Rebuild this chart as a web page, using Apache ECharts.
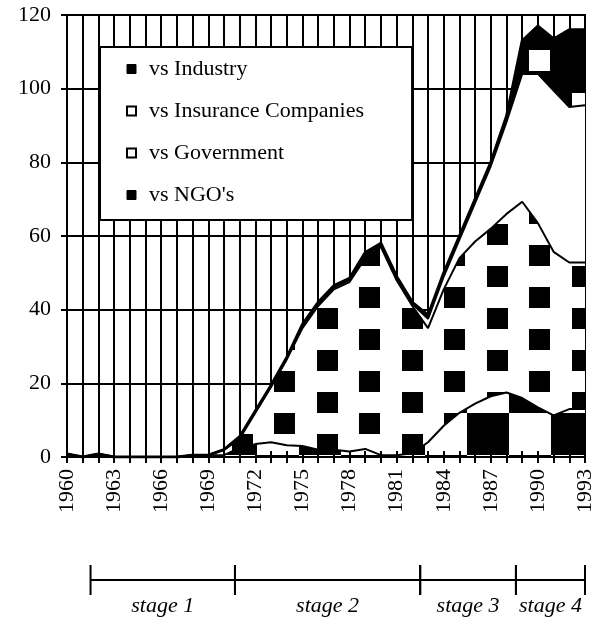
<!DOCTYPE html>
<html>
<head>
<meta charset="utf-8">
<script src="https://cdn.jsdelivr.net/npm/echarts@6/dist/echarts.min.js"></script>
<style>
  html, body { margin: 0; padding: 0; background: #fff; }
  #chart { width: 600px; height: 622px; }
</style>
</head>
<body>
<div id="chart"></div>
<script>
// years on the x axis
const years = []
for (let y = 1960; y <= 1993; y++) years.push(String(y))

// layer values (not cumulative)
const ngo = [0.8, 0, 0.8, 0, 0, 0, 0, 0, 0.5, 0.5, 0.5, 2.5, 3.5, 4, 3.2, 3, 2, 2, 1.5, 2.2, 0.5, 0.5, 1, 4, 8.5, 12, 14.5, 16.5, 17.5, 16, 13.5, 11.3, 13, 13]
const government = [0, 0, 0, 0, 0, 0, 0, 0, 0, 0, 1.5, 2.5, 8.5, 15, 23.3, 32, 39, 43.5, 46, 51.8, 56.5, 47.5, 40, 31, 37, 42, 44, 45.5, 48.5, 53.3, 50, 44.4, 39.8, 39.8]
const insurance = [0, 0, 0, 0, 0, 0, 0, 0, 0, 0, 0, 0.3, 0.3, 0.3, 0.3, 0.5, 0.5, 0.5, 0.5, 0.5, 0.5, 0.5, 0.5, 2.5, 3.5, 5, 10.5, 17, 25, 34.7, 40.5, 43.8, 42.2, 42.7]
const industry = [0, 0, 0, 0, 0, 0, 0, 0, 0, 0, 0, 0.2, 0.2, 0.2, 0.2, 0.5, 0.5, 0.5, 0.5, 1, 0.5, 0.5, 0.5, 1, 1, 1, 1, 1, 1.5, 9, 13, 14, 21, 20.5]

// stages shown under the axis
const stageNames = ['stage 1', 'stage 2', 'stage 3', 'stage 4']
const stageStart = [1961.5, 1970.7, 1982.5, 1988.6]
const stageEnd = [1970.7, 1982.5, 1988.6, 1993]

const FONT = '"Liberation Serif", "Times New Roman", serif'

// small canvas tiles used as fill patterns
function makeTile (w, h, bg, fg, squares) {
  const c = document.createElement('canvas')
  c.width = w
  c.height = h
  const ctx = c.getContext('2d')
  ctx.fillStyle = bg
  ctx.fillRect(0, 0, w, h)
  ctx.fillStyle = fg
  squares.forEach(function (s) {
    for (let dx = -w; dx <= w; dx += w) {
      for (let dy = -h; dy <= h; dy += h) {
        ctx.fillRect(s[0] + dx, s[1] + dy, s[2], s[2])
      }
    }
  })
  return c
}
const govTile = makeTile(85, 42, '#fff', '#000', [[19, 35, 21], [62, 14, 21]])
const indTile = makeTile(85, 84, '#000', '#fff', [[19, 50, 21], [62, 9, 21]])
const ngoTile = makeTile(84, 84, '#fff', '#000', [[5, 35, 42], [47, 77, 42]])

function areaSeries (name, data, fill, lineWidth) {
  return {
    name: name,
    type: 'line',
    stack: 'total',
    data: data,
    symbol: 'none',
    lineStyle: { color: '#000', width: lineWidth },
    itemStyle: { color: '#000' },
    areaStyle: { color: fill, opacity: 1 },
    emphasis: { disabled: true }
  }
}

const myChart = echarts.init(document.getElementById('chart'))
const option = {
  animation: false,
  legend: {
    orient: 'vertical',
    left: 100,
    top: 47,
    padding: [11, 48, 14, 26],
    itemGap: 20,
    itemWidth: 9,
    itemHeight: 9,
    icon: 'rect',
    backgroundColor: '#fff',
    borderColor: '#000',
    borderWidth: 2,
    selectedMode: false,
    textStyle: { fontFamily: FONT, fontSize: 22, color: '#000', padding: [0, 0, 0, 8] },
    data: [
      { name: 'vs Industry', itemStyle: { color: '#000', borderColor: '#000', borderWidth: 1 } },
      { name: 'vs Insurance Companies', itemStyle: { color: '#fff', borderColor: '#000', borderWidth: 2 } },
      { name: 'vs Government', itemStyle: { color: '#fafafa', borderColor: '#000', borderWidth: 2 } },
      { name: "vs NGO's", itemStyle: { color: '#000', borderColor: '#000', borderWidth: 1 } }
    ]
  },
  grid: [
    { left: 67, right: 15, top: 15, bottom: 165, show: true, borderColor: '#000', borderWidth: 2 },
    { left: 67, right: 15, top: 565, height: 30 }
  ],
  xAxis: [
    {
      type: 'category',
      data: years,
      boundaryGap: false,
      axisLine: { onZero: false, lineStyle: { color: '#000', width: 2 } },
      axisTick: { interval: 0, length: 6, lineStyle: { color: '#000', width: 2 } },
      axisLabel: { interval: 2, rotate: 90, margin: 12, fontFamily: FONT, fontSize: 22, color: '#000' },
      splitLine: { show: true, interval: 0, lineStyle: { color: '#000', width: 2 } }
    },
    {
      type: 'category',
      data: years,
      boundaryGap: false,
      position: 'bottom',
      z: 10,
      axisLine: { onZero: false, lineStyle: { color: '#000', width: 2 } },
      axisTick: { inside: true, interval: 0, length: 6, lineStyle: { color: '#000', width: 2 } },
      axisLabel: { show: false },
      splitLine: { show: false }
    },
    { type: 'value', gridIndex: 1, min: 1960, max: 1993, show: false }
  ],
  yAxis: [
    {
      type: 'value',
      min: 0,
      max: 120,
      interval: 20,
      axisLine: { show: true, lineStyle: { color: '#000', width: 2 } },
      axisTick: { show: true, length: 6, lineStyle: { color: '#000', width: 2 } },
      axisLabel: { margin: 16, fontFamily: FONT, fontSize: 22, color: '#000' },
      splitLine: { show: true, lineStyle: { color: '#000', width: 2 } }
    },
    { type: 'value', gridIndex: 1, min: 0, max: 1, show: false }
  ],
  series: [
    areaSeries("vs NGO's", ngo, { image: ngoTile, repeat: 'repeat' }, 2),
    areaSeries('vs Government', government, { image: govTile, repeat: 'repeat' }, 2),
    areaSeries('vs Insurance Companies', insurance, '#fff', 2),
    areaSeries('vs Industry', industry, { image: indTile, repeat: 'repeat' }, 3),
    {
      type: 'custom',
      xAxisIndex: 2,
      yAxisIndex: 1,
      silent: true,
      data: stageStart.map(function (s, i) { return [s, stageEnd[i]] }),
      renderItem: function (params, api) {
        const a = api.coord([api.value(0), 0.5])
        const b = api.coord([api.value(1), 0.5])
        const st = { stroke: '#000', lineWidth: 2 }
        return {
          type: 'group',
          children: [
            { type: 'line', shape: { x1: a[0], y1: a[1], x2: b[0], y2: b[1] }, style: st },
            { type: 'line', shape: { x1: a[0], y1: a[1] - 15, x2: a[0], y2: a[1] + 15 }, style: st },
            { type: 'line', shape: { x1: b[0], y1: b[1] - 15, x2: b[0], y2: b[1] + 15 }, style: st },
            {
              type: 'text',
              x: (a[0] + b[0]) / 2,
              y: a[1] + 26,
              style: {
                text: stageNames[params.dataIndex],
                fontFamily: FONT,
                fontStyle: 'italic',
                fontSize: 22,
                fill: '#000',
                align: 'center',
                verticalAlign: 'middle'
              }
            }
          ]
        }
      }
    }
  ]
}
myChart.setOption(option)
</script>
</body>
</html>
